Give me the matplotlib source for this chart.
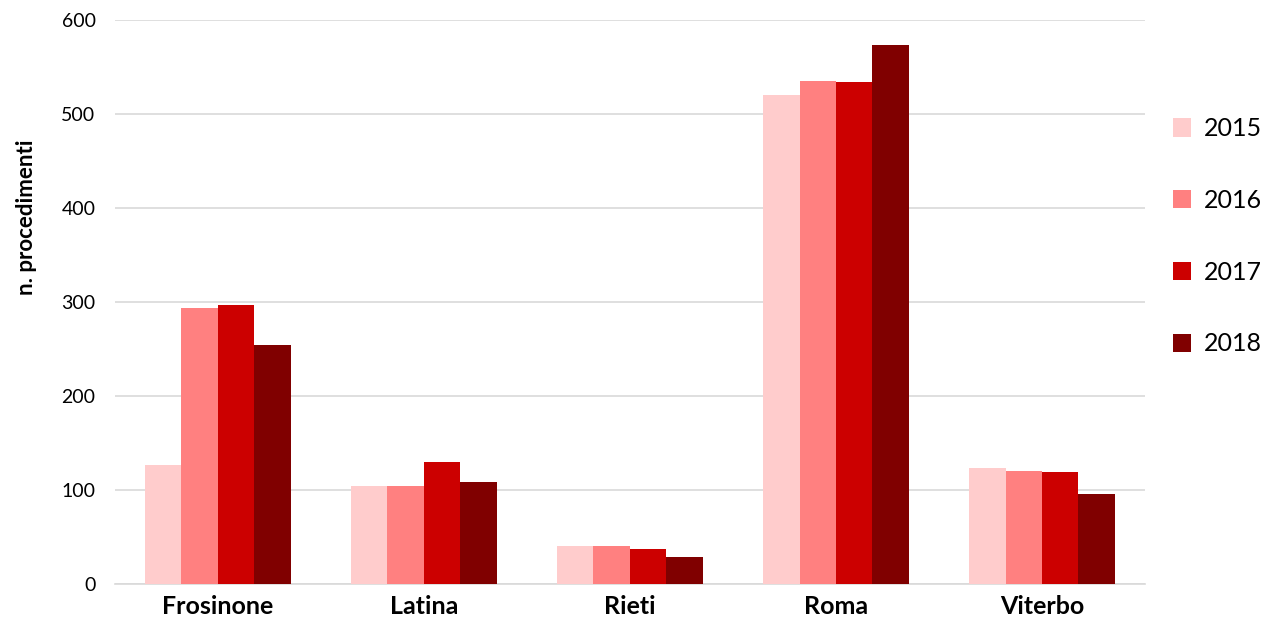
import numpy as np
import matplotlib.pyplot as plt

province = ['Frosinone', 'Latina', 'Rieti', 'Roma', 'Viterbo']
anni = ['2015', '2016', '2017', '2018']
v2015 = [127, 104, 40, 520, 123]
v2016 = [294, 104, 40, 535, 120]
v2017 = [297, 130, 37, 534, 119]
v2018 = [254, 109, 29, 574, 96]
colori = ['#FFCCCC', '#FF8080', '#CC0000', '#800000']

plt.rcParams['font.family'] = ['Lato', 'DejaVu Sans']

fig = plt.figure(figsize=(12.66, 6.34), dpi=100)
ax = fig.add_axes([0.0908, 0.079, 0.8136, 0.889])

x = np.arange(len(province))
w = 0.177
for i, vals in enumerate([v2015, v2016, v2017, v2018]):
    ax.bar(x + (i - 1.5) * w, vals, w, color=colori[i], label=anni[i], zorder=3)

ax.set_xlim(-0.5, 4.5)
ax.set_ylim(0, 600)
ax.set_yticks(range(0, 601, 100))
ax.set_xticks(x)
ax.set_xticklabels(province, fontsize=18, fontweight='bold')
ax.tick_params(axis='y', labelsize=14, length=0, pad=14)
ax.tick_params(axis='x', length=0, pad=8)
ax.grid(axis='y', color='#D9D9D9', linewidth=1.2, zorder=0)
for s in ['top', 'right', 'left']:
    ax.spines[s].set_visible(False)
ax.spines['bottom'].set_color('#D9D9D9')
ax.spines['bottom'].set_linewidth(1.2)
ax.set_ylabel('n. procedimenti', fontsize=16, fontweight='bold')
ax.yaxis.set_label_coords(-0.076, 0.65)

ax.legend(loc='upper left', bbox_to_anchor=(1.005, 0.868), frameon=False,
          fontsize=18, handlelength=0.75, handleheight=0.75, labelspacing=1.95,
          handletextpad=0.5)

fig.savefig('out.png', dpi=100)
